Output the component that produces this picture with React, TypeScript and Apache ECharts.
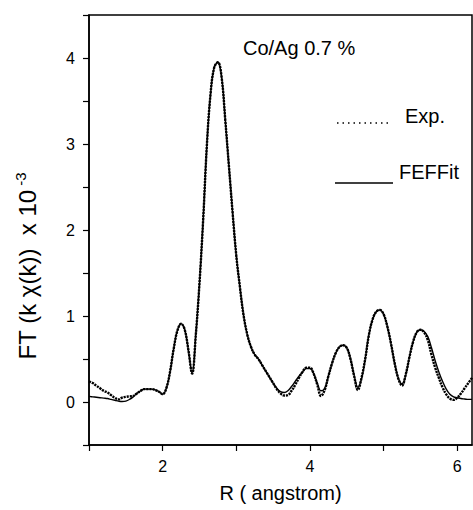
import React, { useEffect, useRef } from "react";
import * as echarts from "echarts";

const rValues = [
  1.0, 1.05, 1.1, 1.15, 1.2, 1.25, 1.3, 1.35, 1.4, 1.45,
  1.5, 1.55, 1.6, 1.65, 1.7, 1.75, 1.8, 1.85, 1.9, 1.95,
  2.0, 2.05, 2.1, 2.15, 2.2, 2.25, 2.3, 2.35, 2.4, 2.45,
  2.5, 2.55, 2.6, 2.65, 2.7, 2.75, 2.8, 2.85, 2.9, 2.95,
  3.0, 3.05, 3.1, 3.15, 3.2, 3.25, 3.3, 3.35, 3.4, 3.45,
  3.5, 3.55, 3.6, 3.65, 3.7, 3.75, 3.8, 3.85, 3.9, 3.95,
  4.0, 4.05, 4.1, 4.15, 4.2, 4.25, 4.3, 4.35, 4.4, 4.45,
  4.5, 4.55, 4.6, 4.65, 4.7, 4.75, 4.8, 4.85, 4.9, 4.95,
  5.0, 5.05, 5.1, 5.15, 5.2, 5.25, 5.3, 5.35, 5.4, 5.45,
  5.5, 5.55, 5.6, 5.65, 5.7, 5.75, 5.8, 5.85, 5.9, 5.95,
  6.0, 6.05, 6.1, 6.15, 6.2,
];

const expValues = [
  0.24, 0.22, 0.19, 0.16, 0.13, 0.11, 0.08, 0.05, 0.03, 0.05,
  0.06, 0.065, 0.07, 0.1, 0.13, 0.15, 0.15, 0.15, 0.14, 0.12,
  0.09, 0.16, 0.35, 0.62, 0.83, 0.91, 0.84, 0.6, 0.33, 0.78,
  1.38, 2.12, 2.98, 3.58, 3.89, 3.95, 3.78, 3.28, 2.74, 2.2,
  1.7, 1.33, 1.0, 0.78, 0.64, 0.55, 0.5, 0.43, 0.36, 0.29,
  0.22, 0.15, 0.1, 0.075, 0.08, 0.13, 0.2, 0.28, 0.35, 0.4,
  0.4, 0.33, 0.2, 0.07, 0.14, 0.3, 0.45, 0.57, 0.64, 0.66,
  0.63, 0.5, 0.3, 0.14, 0.28, 0.5, 0.78, 0.96, 1.05, 1.07,
  1.02, 0.88, 0.68, 0.45, 0.27, 0.19, 0.32, 0.52, 0.7, 0.81,
  0.84, 0.81, 0.72, 0.55, 0.4, 0.28, 0.17, 0.09, 0.04, 0.025,
  0.05, 0.1, 0.16, 0.22, 0.28,
];

const fitValues = [
  0.065, 0.06, 0.055, 0.05, 0.045, 0.04, 0.03, 0.02, 0.01, 0.005,
  0.01, 0.03, 0.06, 0.1, 0.13, 0.15, 0.15, 0.15, 0.14, 0.12,
  0.09, 0.16, 0.35, 0.62, 0.83, 0.91, 0.84, 0.6, 0.33, 0.78,
  1.38, 2.12, 2.98, 3.58, 3.89, 3.95, 3.78, 3.28, 2.74, 2.2,
  1.7, 1.33, 1.0, 0.78, 0.64, 0.55, 0.5, 0.43, 0.36, 0.29,
  0.22, 0.16, 0.12, 0.11, 0.13, 0.18, 0.24, 0.3, 0.35, 0.39,
  0.39, 0.33, 0.22, 0.13, 0.16, 0.3, 0.45, 0.57, 0.64, 0.66,
  0.63, 0.5, 0.31, 0.17, 0.27, 0.5, 0.78, 0.96, 1.05, 1.07,
  1.02, 0.88, 0.68, 0.45, 0.28, 0.21, 0.31, 0.52, 0.7, 0.81,
  0.84, 0.82, 0.76, 0.63, 0.48, 0.35, 0.24, 0.15, 0.09, 0.06,
  0.05, 0.04, 0.035, 0.03, 0.03,
];

const seriesNames = ["Exp.", "FEFFit"];
const chartTitle = "Co/Ag 0.7 %";
const xAxisTitle = "R ( angstrom)";

const FONT = "'Liberation Sans', Arial, Helvetica, sans-serif";

export default function App() {
  const ref = useRef<HTMLDivElement>(null);

  useEffect(() => {
    if (!ref.current) return;
    const chart = echarts.init(ref.current, undefined, { renderer: "svg" });
    const expData = rValues.map((r, i) => [r, expValues[i]]);
    const fitData = rValues.map((r, i) => [r, fitValues[i]]);

    chart.setOption({
      animation: false,
      backgroundColor: "#fff",
      grid: {
        left: 89,
        right: 1,
        top: 15,
        bottom: 65,
        show: true,
        borderColor: "#000",
        borderWidth: 1.5,
        containLabel: false,
      },
      xAxis: {
        type: "value",
        min: 1,
        max: 6.2,
        interval: 1,
        name: xAxisTitle,
        nameLocation: "middle",
        nameGap: 38,
        nameTextStyle: { fontFamily: FONT, fontSize: 20, color: "#000" },
        axisLine: { show: true, onZero: false, lineStyle: { color: "#000", width: 1.5 } },
        axisTick: { show: true, inside: false, length: 6, lineStyle: { color: "#000", width: 1.2 } },
        axisLabel: {
          fontFamily: FONT,
          fontSize: 16,
          color: "#000",
          margin: 13,
          showMaxLabel: false,
          formatter: (v: number) =>
            Math.abs(v - Math.round(v)) < 1e-6 && Math.round(v) % 2 === 0 ? String(Math.round(v)) : "",
        },
        splitLine: { show: false },
      },
      yAxis: {
        type: "value",
        min: -0.5,
        max: 4.5,
        interval: 0.5,
        axisLine: { show: true, onZero: false, lineStyle: { color: "#000", width: 1.5 } },
        axisTick: { show: true, inside: false, length: 6, lineStyle: { color: "#000", width: 1.2 } },
        axisLabel: {
          fontFamily: FONT,
          fontSize: 16,
          color: "#000",
          margin: 14,
          formatter: (v: number) =>
            Math.abs(v - Math.round(v)) < 1e-6 ? String(Math.round(v)) : "",
        },
        splitLine: { show: false },
      },
      series: [
        {
          name: seriesNames[1],
          type: "line",
          data: fitData,
          smooth: 0.4,
          showSymbol: false,
          lineStyle: { color: "#000", width: 1.4 },
        },
        {
          name: seriesNames[0],
          type: "line",
          data: expData,
          smooth: 0.4,
          showSymbol: false,
          lineStyle: { color: "#000", width: 2.4, type: [2.2, 0.9] },
        },
      ],
      graphic: [
        {
          type: "text",
          left: 243,
          top: 38,
          style: { text: chartTitle, font: `20px ${FONT}`, fill: "#000" },
        },
        {
          type: "line",
          shape: { x1: 337, y1: 123, x2: 392, y2: 123 },
          style: { stroke: "#000", lineWidth: 1.5, lineDash: [1.5, 4] },
        },
        {
          type: "text",
          left: 405,
          top: 106,
          style: { text: seriesNames[0], font: `20px ${FONT}`, fill: "#000" },
        },
        {
          type: "line",
          shape: { x1: 335, y1: 183, x2: 393, y2: 183 },
          style: { stroke: "#000", lineWidth: 1.7 },
        },
        {
          type: "text",
          left: 399,
          top: 162,
          style: { text: seriesNames[1], font: `20px ${FONT}`, fill: "#000" },
        },
        {
          type: "text",
          x: 27,
          y: 266,
          rotation: Math.PI / 2,
          style: {
            text: "FT (k χ(k))  x 10{sup|-3}",
            font: `24px ${FONT}`,
            fill: "#000",
            align: "center",
            verticalAlign: "middle",
            rich: {
              sup: { fontSize: 15, fontFamily: FONT, fill: "#000", verticalAlign: "top", padding: [0, 0, 14, 4] },
            },
          },
        },
      ],
    });

    return () => chart.dispose();
  }, []);

  return (
    <div
      ref={ref}
      style={{ position: "fixed", left: 0, top: 0, width: 473, height: 510, background: "#fff" }}
    />
  );
}
